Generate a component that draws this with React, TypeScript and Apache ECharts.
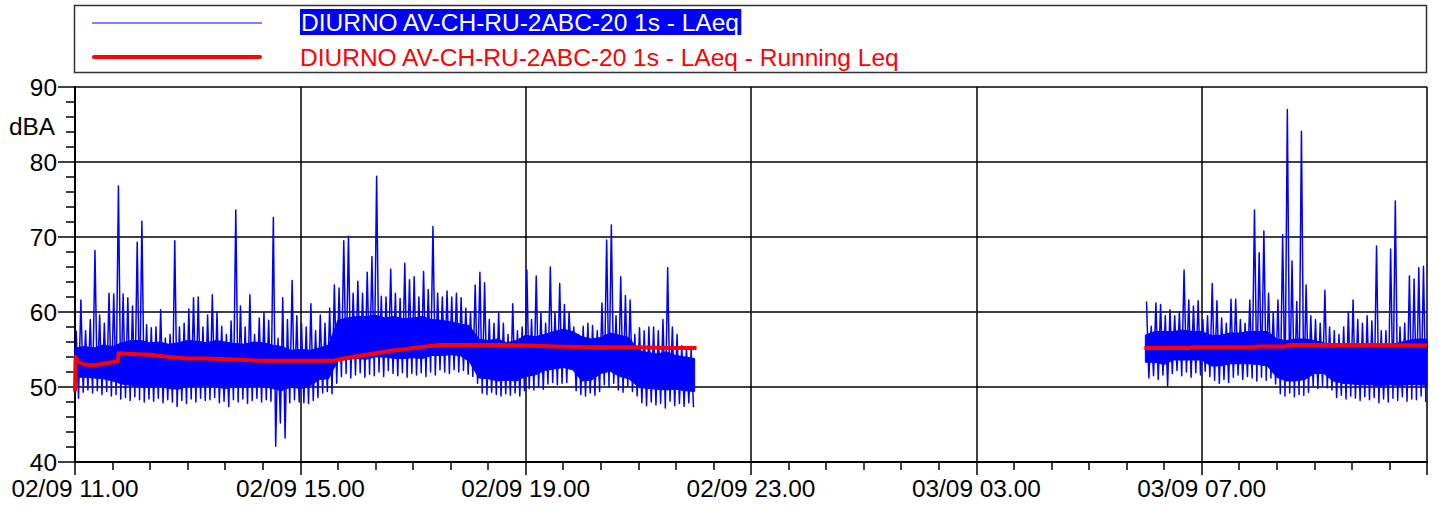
import React, { useEffect, useRef } from "react";
import * as echarts from "echarts";

// ---- axis / text content ----
const X_TICK_LABELS = ["02/09 11.00", "02/09 15.00", "02/09 19.00", "02/09 23.00", "03/09 03.00", "03/09 07.00", ""];
const SERIES_NAMES = [
  "DIURNO AV-CH-RU-2ABC-20 1s - LAeq",
  "DIURNO AV-CH-RU-2ABC-20 1s - LAeq - Running Leq",
];
const Y_UNIT = "dBA";

// time in minutes after 02/09 11:00
const SEG1_START = 0;
const SEG2_START = 1140;
const BIN = 5; // minutes per peak/trough bin
const BAND_STEP = 10; // minutes per band sample

// ---- LAeq 1s : segment 1 (11:00 -> 22:00) ----
const peaks1 = [
  57.5, 61.6, 57.5, 59, 68.2, 59.6, 58.5, 62.5, 62.4, 76.8,
  62.4, 61.9, 60.8, 69.3, 72.1, 58.3, 57.9, 58, 60.3, 56.5,
  57, 69.5, 58, 58.5, 60.4, 61.9, 62, 58, 59.6, 62.3,
  60, 58.1, 57, 58.8, 73.6, 60.8, 58, 62.3, 57, 59.2,
  59.9, 58.9, 72.6, 56.5, 61.9, 59, 64.2, 59.5,
  58.5, 58, 61.1, 57.5, 59.6, 58.5, 60.5, 63.6, 63.2, 69.5,
  70.1, 62.5, 64.1, 62.5, 65.3, 67.4, 78.1, 62.1, 62, 65.7,
  62.5, 61.8, 66.5, 64.3, 64.7, 62, 65.4, 63, 71.4, 62.5,
  62, 62.8, 62, 62.5, 61.9, 60.5, 60, 63.6, 65.3, 63.9,
  59, 58.5, 59.9, 58.5, 57, 61.1, 57.5, 58, 65.6, 59,
  64.8, 59.9, 58.5, 66, 60, 63.8, 61, 60, 58, 57,
  58.1, 58.5, 58.2, 57.5, 61.2, 69.6, 71.6, 59.5, 64.7, 62.2,
  61.6, 57, 57.9, 57.5, 58, 58, 57.5, 59, 65.9, 58,
  57, 55.5, 55.2, 55,
];
const troughs1 = [
  48.5, 49.3, 49.6, 49.2, 49.5, 49.0, 49.4, 48.8, 49.0, 48.4,
  48.6, 48.2, 48.7, 48.3, 48.0, 48.4, 48.1, 48.5, 47.9, 48.3,
  48.0, 47.4, 48.2, 47.8, 48.4, 48.0, 48.5, 48.2, 48.3, 48.6,
  47.9, 48.1, 47.4, 48.3, 48.0, 48.4, 47.8, 48.2, 48.5, 48.0,
  48.3, 48.1, 42.1, 45.2, 43.2, 47.9, 48.3, 48.0,
  47.9, 47.8, 48.2, 48.6, 49.2, 49.4, 49.1, 50.5, 51.4, 51.8,
  51.2, 51.6, 51.9, 51.3, 51.7, 51.5, 52.0, 51.4, 52.2, 51.8,
  51.5, 51.9, 51.3, 51.8, 51.6, 51.9, 51.4, 52.0, 51.6, 52.3,
  52.0, 51.8, 52.3, 52.0, 52.2, 51.7, 51.4, 50.5, 49.2, 49.0,
  49.3, 49.0, 48.8, 49.1, 48.9, 49.2, 48.8, 49.5, 49.8, 49.6,
  50.0, 49.7, 50.4, 50.6, 50.3, 50.5, 50.6, 53.5, 49.5, 49.0,
  48.8, 49.2, 48.9, 49.4, 50.3, 50.0, 50.5, 49.6, 49.3, 50.1,
  49.4, 48.8, 47.9, 47.5, 48.0, 47.6, 47.8, 47.2, 48.1, 47.5,
  47.8, 47.4, 47.9, 47.3,
];
// dense core of the band, sampled every 10 minutes
const bandLo1 = [
  51.3, 51.3, 51.2, 51.1, 50.8, 50.4, 50.2, 50.0, 50.0, 50.1,
  49.8, 49.7, 50.1, 50.1, 50.2, 50.0, 49.8, 50.0, 50.0, 50.1,
  50.1, 49.8, 49.5, 50.0, 49.8, 50.1, 51.0, 51.1, 53.5, 53.7,
  53.8, 53.7, 54.0, 54.0, 53.8, 53.8, 53.9, 53.8, 54.2, 54.2,
  54.3, 54.2, 53.4, 51.2, 51.1, 50.8, 50.9, 50.8, 51.4, 51.6,
  52.2, 52.4, 52.6, 52.3, 50.8, 50.9, 51.8, 52.1, 51.4, 51.1,
  50.0, 49.8, 49.7, 49.6, 49.7, 49.5, 49.4,
];
const bandHi1 = [
  55.2, 55.4, 55.2, 55.6, 55.4,
  55.9, 56.2, 56.2, 55.9, 56.0, 55.7,
  55.9, 56.2, 56.1, 55.9, 56.2, 56.0,
  55.8, 55.7, 56.0, 55.9, 55.6, 55.4, 54.9, 55.0,
  54.9, 55.2, 55.6,
  58.9, 59.2, 59.4, 59.4, 59.6, 59.2, 59.4, 59.1, 59.2, 59.4, 59.0, 58.9, 58.7, 58.4, 58.2,
  56.4, 56.2, 56.4, 55.9, 56.2,
  56.9, 56.7, 57.0, 57.4, 57.7, 57.4,
  56.7, 56.4, 56.6, 57.2, 56.9, 56.6,
  54.9, 54.6, 54.4, 54.7, 54.2, 54.0, 53.8,
];

// ---- LAeq 1s : segment 2 (06:00 -> 11:00) ----
const peaks2 = [
  61.4, 58.1, 61.2, 61, 59.5, 60.3, 59.5, 60, 65.6, 61.6,
  60.8, 61.5, 59, 59.5, 63.8, 61.5, 59.2, 58.5, 61.7, 61.7,
  59, 58.5, 61.6, 73.6, 67.9, 70.8, 62.5, 60, 61.6, 70.3,
  87, 66.8, 61.4, 84.1, 63.6, 59.5, 59, 58.5, 62.9, 58,
  57.5, 57, 58, 60, 61.6, 59, 58.5, 59.5, 58.8, 68.8,
  57.5, 57.5, 68.4, 74.8, 58, 58.5, 64.8, 64.4, 65.9, 66.1,
];
const troughs2 = [
  51.2, 51.5, 51.0, 51.6, 50.1, 51.8, 52.2, 51.5, 52.0, 51.3, 51.9, 51.6,
  52.1, 51.4, 50.9, 50.5, 51.0, 50.6, 51.3, 51.6, 51.0, 51.4, 51.2, 50.8,
  51.3, 50.9, 51.2, 50.4, 49.1, 48.8, 49.2, 48.7, 49.0, 48.9, 49.3, 50.1,
  49.8, 50.2, 49.9, 49.6, 48.6, 48.9, 48.4, 48.8, 48.5, 48.2, 48.7, 48.3,
  48.6, 47.9, 48.4, 48.0, 48.5, 48.2, 48.7, 48.1, 48.4, 48.3, 48.8, 48.0,
];
const bandLo2 = [
  53.3, 53.3, 53.0, 53.6, 53.6, 53.6, 53.6, 52.8, 52.8, 53.1,
  53.1, 53.1, 53.0, 52.8, 51.3, 50.8, 50.8, 51.0, 51.8, 51.8,
  50.8, 50.5, 50.4, 50.3, 50.3, 50.1, 50.3, 50.2, 50.3, 50.3, 50.2,
];
const bandHi2 = [
  56.9, 57.4, 57.4, 57.4, 57.6, 57.4, 57.4, 56.9, 56.9, 57.2,
  57.2, 57.4, 57.4, 57.4, 56.4, 56.2, 56.4, 56.4, 56.2, 55.9,
  55.4, 55.4, 55.6, 55.4, 55.4, 55.7, 55.6, 55.9, 56.2, 56.4, 56.4,
];

// ---- Running Leq ----
const leqTimes1 = [
  0, 0.6, 3, 10, 20, 30, 40, 45.5, 46.5,
  60, 80, 100, 120, 140, 160, 180, 200, 220, 240,
  260, 275, 290, 300, 310, 320, 330, 340, 350, 360,
  370, 380, 390, 400, 450, 490, 510, 550, 600, 630, 662,
];
const leqValues1 = [
  49.4, 54.0, 53.4, 53.0, 52.9, 53.1, 53.3, 53.4, 54.5,
  54.4, 54.3, 54.0, 53.8, 53.8, 53.7, 53.6, 53.5, 53.5, 53.5,
  53.5, 53.5, 53.9, 54.1, 54.3, 54.5, 54.7, 54.9, 55.0, 55.2,
  55.35, 55.5, 55.6, 55.6, 55.6, 55.5, 55.4, 55.3, 55.3, 55.2, 55.2,
];
const leqTimes2 = [1139, 1187, 1189, 1257, 1259, 1290, 1292, 1320, 1380, 1440];
const leqValues2 = [55.2, 55.2, 55.3, 55.3, 55.4, 55.4, 55.6, 55.6, 55.6, 55.55];

const BLUE = "#0000ff";
const RED = "#ff0000";
const FONT = '"Liberation Sans", Arial, sans-serif';

function zigzag(start: number, peaks: number[], troughs: number[]) {
  const pts: number[][] = [];
  peaks.forEach((p, k) => {
    pts.push([start + BIN * k + BIN / 4, p]);
    pts.push([start + BIN * k + (3 * BIN) / 4, troughs[k]]);
  });
  return pts;
}
function bandPoints(start: number, lo: number[], hi: number[]) {
  return lo.map((l, i) => [start + BAND_STEP * i, l, hi[i]]);
}
function pairs(ts: number[], vs: number[]) {
  return ts.map((t, i) => [t, vs[i]]);
}

function bandSeries(points: number[][]) {
  return {
    type: "custom",
    silent: true,
    z: 2,
    data: points,
    encode: { x: 0, y: [1, 2] },
    renderItem: (params: any, api: any) => {
      if (params.dataIndex !== 0) return null;
      const upper = points.map((p) => api.coord([p[0], p[2]]));
      const lower = points
        .slice()
        .reverse()
        .map((p) => api.coord([p[0], p[1]]));
      return {
        type: "polygon",
        shape: { points: upper.concat(lower) },
        style: { fill: BLUE, stroke: BLUE, lineWidth: 1 },
      };
    },
  };
}

function lineSeries(name: string, data: number[][], color: string, width: number, z: number) {
  return {
    name,
    type: "line",
    data,
    z,
    symbol: "none",
    showSymbol: false,
    silent: true,
    lineStyle: { color, width, join: "round" },
    itemStyle: { color },
  };
}

export default function App() {
  const ref = useRef<HTMLDivElement>(null);
  useEffect(() => {
    if (!ref.current) return;
    const chart = echarts.init(ref.current, undefined, { renderer: "svg" });
    const tickColor = "#000";
    const option: any = {
      animation: false,
      backgroundColor: "#ffffff",
      textStyle: { fontFamily: FONT },
      grid: { left: 75, right: 11, top: 87, bottom: 46, containLabel: false, outerBoundsMode: "none" },
      xAxis: {
        type: "value",
        min: 0,
        max: 1440,
        interval: 240,
        axisLine: { show: true, onZero: false, lineStyle: { color: "#000", width: 2 } },
        axisTick: { show: true, length: 13, lineStyle: { color: tickColor, width: 1.5 } },
        minorTick: { show: true, splitNumber: 6, length: 8, lineStyle: { color: tickColor, width: 1.5 } },
        splitLine: { show: true, lineStyle: { color: "#000", width: 1.5 } },
        axisLabel: {
          fontSize: 24.4,
          fontFamily: FONT,
          color: "#000",
          margin: 14,
          showMaxLabel: false,
          formatter: (v: number) => X_TICK_LABELS[Math.round(v / 240)] ?? "",
        },
      },
      yAxis: {
        type: "value",
        min: 40,
        max: 90,
        interval: 10,
        axisLine: { show: true, onZero: false, lineStyle: { color: "#000", width: 2 } },
        axisTick: { show: true, length: 17, lineStyle: { color: tickColor, width: 1.5 } },
        minorTick: { show: true, splitNumber: 5, length: 9, lineStyle: { color: tickColor, width: 1.5 } },
        splitLine: { show: true, lineStyle: { color: "#000", width: 1.5 } },
        axisLabel: { fontSize: 24.4, fontFamily: FONT, color: "#000", margin: 18 },
      },
      graphic: [
        {
          type: "rect",
          silent: true,
          shape: { x: 74.5, y: 5.5, width: 1352, height: 67 },
          style: { fill: "#fff", stroke: "#333", lineWidth: 1.5 },
        },
        {
          type: "line",
          silent: true,
          shape: { x1: 92, y1: 23, x2: 262, y2: 23 },
          style: { stroke: BLUE, lineWidth: 1 },
        },
        {
          type: "text",
          silent: true,
          style: {
            x: 300,
            y: 22,
            text: SERIES_NAMES[0],
            fill: "#fff",
            font: `24.5px ${FONT}`,
            textAlign: "left",
            textVerticalAlign: "middle",
            backgroundColor: BLUE,
            padding: [1, 1, 0, 1],
          },
        },
        {
          type: "line",
          silent: true,
          shape: { x1: 94, y1: 57, x2: 260, y2: 57 },
          style: { stroke: RED, lineWidth: 4, lineCap: "round" },
        },
        {
          type: "text",
          silent: true,
          style: {
            x: 300,
            y: 57,
            text: SERIES_NAMES[1],
            fill: RED,
            font: `24.5px ${FONT}`,
            textAlign: "left",
            textVerticalAlign: "middle",
          },
        },
        {
          type: "text",
          silent: true,
          style: {
            x: 55,
            y: 126,
            text: Y_UNIT,
            fill: "#000",
            font: `24.4px ${FONT}`,
            textAlign: "right",
            textVerticalAlign: "middle",
          },
        },
      ],
      series: [
        bandSeries(bandPoints(SEG1_START, bandLo1, bandHi1)),
        bandSeries(bandPoints(SEG2_START, bandLo2, bandHi2)),
        lineSeries(SERIES_NAMES[0], zigzag(SEG1_START, peaks1, troughs1), BLUE, 1.5, 3),
        lineSeries(SERIES_NAMES[0] + " (2)", zigzag(SEG2_START, peaks2, troughs2), BLUE, 1.5, 3),
        lineSeries(SERIES_NAMES[1], pairs(leqTimes1, leqValues1), RED, 4, 4),
        lineSeries(SERIES_NAMES[1] + " (2)", pairs(leqTimes2, leqValues2), RED, 4, 4),
      ],
    };
    chart.setOption(option);
    return () => chart.dispose();
  }, []);
  return (
    <div
      ref={ref}
      style={{ position: "fixed", left: 0, top: 0, width: "1438px", height: "508px", background: "#fff" }}
    />
  );
}
